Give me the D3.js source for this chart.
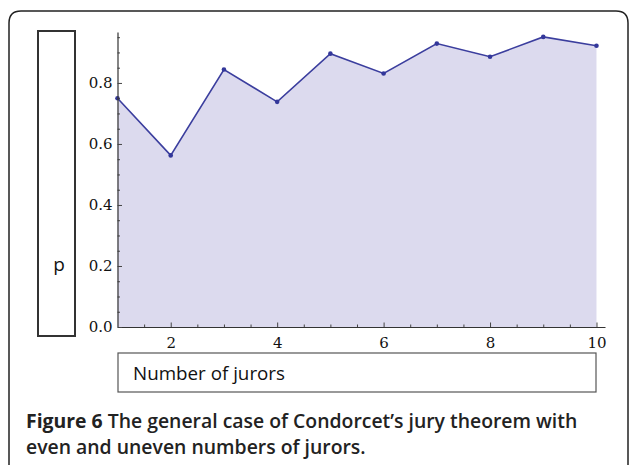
<!DOCTYPE html>
<html lang="en">
	<head>
		<meta charset="UTF-8" />
		<title>Condorcet jury theorem</title>
		<style>
			body { margin: 0; background: #fff; }
			svg { display: block; }
		</style>
	</head>
	<body>
		<div id="chart"></div>
		<script src="https://cdn.jsdelivr.net/npm/d3@7"></script>
		<script>
			// values
			var jurors = [1, 2, 3, 4, 5, 6, 7, 8, 9, 10];
			var probability = [0.75, 0.5625, 0.844, 0.738, 0.896, 0.831, 0.929, 0.886, 0.951, 0.922];
			var xTicks = [2, 4, 6, 8, 10];
			var yTicks = [0.0, 0.2, 0.4, 0.6, 0.8];
			var yLabel = 'p';
			var xLabel = 'Number of jurors';
			var captionBold = 'Figure 6';
			var captionLines = [
				' The general case of Condorcet\u2019s jury theorem with',
				'even and uneven numbers of jurors.'
			];

			var width = 629;
			var height = 465;

			var svg = d3
				.select('#chart')
				.append('svg')
				.attr('width', width)
				.attr('height', height);

			// outer rounded frame (bottom runs off the page)
			svg.append('path')
				.attr('d', 'M9,470 V23 Q9,11 21,11 H616 Q628,11 628,23 V470')
				.attr('fill', 'none')
				.attr('stroke', '#222')
				.attr('stroke-width', 1.5);

			var x = d3.scaleLinear().domain([1, 10.16]).range([117.5, 605]);
			var y = d3.scaleLinear().domain([0, 0.967]).range([327, 32]);

			var data = jurors.map(function (d, i) {
				return { n: d, p: probability[i] };
			});

			var area = d3
				.area()
				.x(function (d) { return x(d.n); })
				.y0(y(0))
				.y1(function (d) { return y(d.p); });

			var line = d3
				.line()
				.x(function (d) { return x(d.n); })
				.y(function (d) { return y(d.p); });

			svg.append('path')
				.datum(data)
				.attr('d', area)
				.attr('fill', '#dcdaee');

			svg.append('path')
				.datum(data)
				.attr('d', line)
				.attr('fill', 'none')
				.attr('stroke', '#3b3e9e')
				.attr('stroke-width', 1.6);

			svg.selectAll('circle.pt')
				.data(data)
				.enter()
				.append('circle')
				.attr('class', 'pt')
				.attr('cx', function (d) { return x(d.n); })
				.attr('cy', function (d) { return y(d.p); })
				.attr('r', 2.3)
				.attr('fill', '#33379a');

			// minor ticks
			var xMinor = d3.range(1.5, 10.01, 0.5).filter(function (v) { return xTicks.indexOf(v) < 0; });
			var yMinor = d3.range(0.05, 0.96, 0.05).filter(function (v) {
				return yTicks.every(function (t) { return Math.abs(t - v) > 1e-6; });
			});

			svg.append('g')
				.attr('transform', 'translate(0,' + y(0) + ')')
				.call(d3.axisBottom(x).tickValues(xMinor).tickSize(-2.5).tickSizeOuter(0).tickFormat(''))
				.call(function (g) { g.select('.domain').remove(); });

			svg.append('g')
				.attr('transform', 'translate(' + x(1) + ',0)')
				.call(d3.axisLeft(y).tickValues(yMinor).tickSize(-2.5).tickSizeOuter(0).tickFormat(''))
				.call(function (g) { g.select('.domain').remove(); });

			var xAxis = svg.append('g')
				.attr('transform', 'translate(0,' + y(0) + ')')
				.call(d3.axisBottom(x).tickValues(xTicks).tickSize(-4.5).tickSizeOuter(0).tickPadding(10));

			var yAxis = svg.append('g')
				.attr('transform', 'translate(' + x(1) + ',0)')
				.call(d3.axisLeft(y).tickValues(yTicks).tickSize(-4.5).tickSizeOuter(0).tickPadding(5).tickFormat(d3.format('.1f')));

			svg.selectAll('.tick line').attr('stroke', '#444');
			svg.selectAll('.domain').attr('stroke', '#333').attr('stroke-width', 1.2);
			svg.selectAll('.tick text')
				.attr('font-family', '"DejaVu Serif", serif')
				.attr('font-size', 15)
				.attr('fill', '#111');
			xAxis.selectAll('.tick text').attr('dy', '0.71em');

			// y label box
			svg.append('rect')
				.attr('x', 38).attr('y', 31)
				.attr('width', 37).attr('height', 305)
				.attr('fill', '#fff')
				.attr('stroke', '#333')
				.attr('stroke-width', 2);
			svg.append('text')
				.attr('x', 59).attr('y', 271)
				.attr('text-anchor', 'middle')
				.attr('font-family', '"Open Sans", sans-serif')
				.attr('font-size', 19)
				.attr('fill', '#111')
				.text(yLabel);

			// x label box
			svg.append('rect')
				.attr('x', 118).attr('y', 353)
				.attr('width', 478).attr('height', 39)
				.attr('fill', '#fff')
				.attr('stroke', '#555')
				.attr('stroke-width', 1.2);
			svg.append('text')
				.attr('x', 133).attr('y', 380)
				.attr('font-family', '"Open Sans", sans-serif')
				.attr('font-size', 18.8)
				.attr('fill', '#111')
				.text(xLabel);

			// caption
			var cap = svg.append('text')
				.attr('font-family', '"Open Sans", sans-serif')
				.attr('font-size', 19.4)
				.attr('font-weight', 600)
				.attr('fill', '#222');
			cap.append('tspan')
				.attr('x', 26).attr('y', 428)
				.attr('font-weight', 700)
				.text(captionBold);
			cap.append('tspan')
				.text(captionLines[0]);
			cap.append('tspan')
				.attr('x', 26).attr('y', 454)
				.text(captionLines[1]);
		</script>
	</body>
</html>
